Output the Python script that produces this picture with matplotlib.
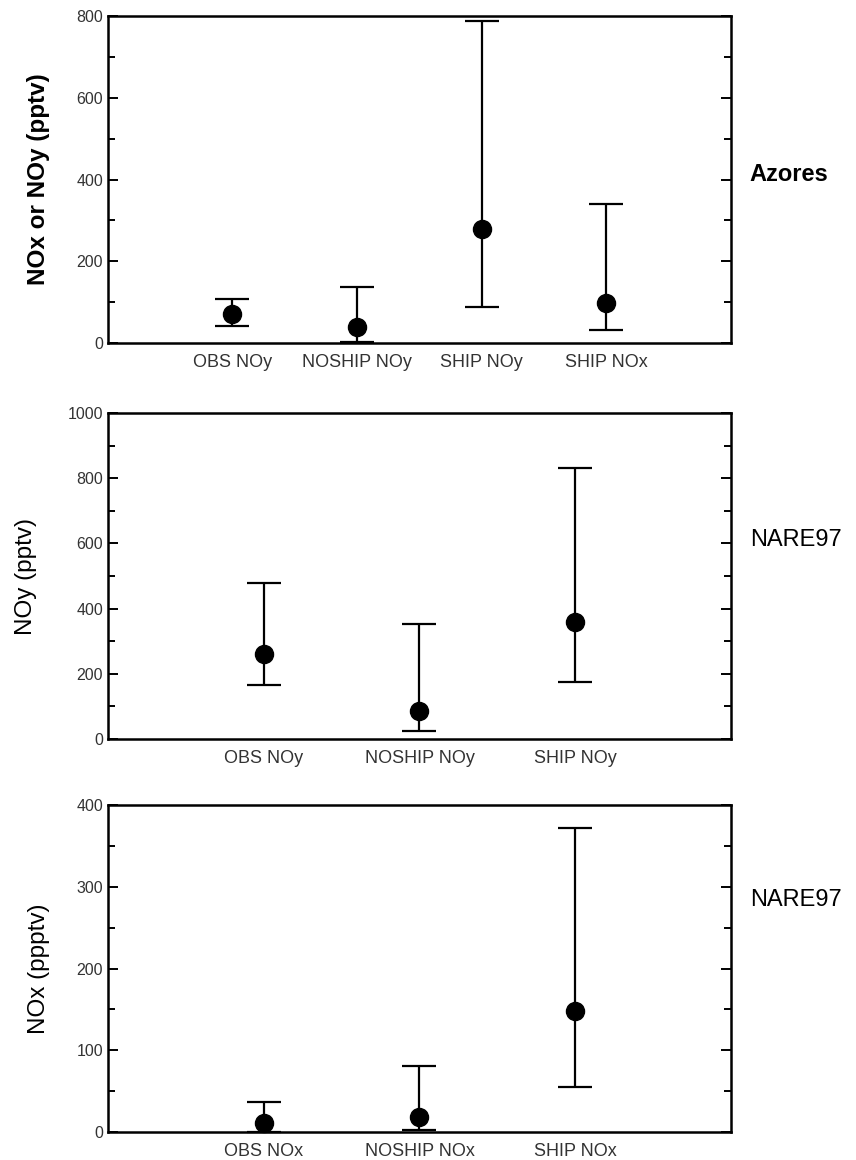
import matplotlib
matplotlib.use("Agg")
import matplotlib.pyplot as plt
from matplotlib.ticker import MultipleLocator
import numpy as np

plt.rcParams['font.family'] = ['Liberation Sans', 'DejaVu Sans']

# Panel 1: Azores
az_cats = ["OBS NOy", "NOSHIP NOy", "SHIP NOy", "SHIP NOx"]
az_mid = [71, 39, 279, 98]
az_low = [42, 3, 88, 32]
az_high = [108, 137, 788, 340]

# Panel 2: NARE97 NOy
ny_cats = ["OBS NOy", "NOSHIP NOy", "SHIP NOy"]
ny_mid = [261, 86, 359]
ny_low = [166, 25, 175]
ny_high = [478, 353, 831]

# Panel 3: NARE97 NOx
nx_cats = ["OBS NOx", "NOSHIP NOx", "SHIP NOx"]
nx_mid = [11, 18, 148]
nx_low = [0, 2, 55]
nx_high = [37, 81, 372]

panels = [
    dict(cats=az_cats, mid=az_mid, low=az_low, high=az_high, ylim=800, major=200, minor=100,
         ylabel="NOx or NOy (pptv)", site="Azores", site_y=0.514, bold=True,
         rect=[0.126, 0.7043, 0.728, 0.2819], labx=-0.093),
    dict(cats=ny_cats, mid=ny_mid, low=ny_low, high=ny_high, ylim=1000, major=200, minor=100,
         ylabel="NOy (pptv)", site="NARE97", site_y=0.61, bold=False,
         rect=[0.126, 0.3629, 0.728, 0.281], labx=-0.114),
    dict(cats=nx_cats, mid=nx_mid, low=nx_low, high=nx_high, ylim=400, major=100, minor=50,
         ylabel="NOx (ppptv)", site="NARE97", site_y=0.71, bold=False,
         rect=[0.126, 0.0241, 0.728, 0.2819], labx=-0.093),
]

fig = plt.figure(figsize=(8.56, 11.6), dpi=100)

for p in panels:
    ax = fig.add_axes(p["rect"])
    n = len(p["cats"])
    x = np.arange(1, n + 1)
    mid = np.array(p["mid"], dtype=float)
    lo = mid - np.array(p["low"], dtype=float)
    hi = np.array(p["high"], dtype=float) - mid
    ax.errorbar(x, mid, yerr=[lo, hi], fmt='o', color='black', ecolor='black',
                markersize=13, elinewidth=1.6, capsize=12, capthick=1.6, zorder=3,
                clip_on=False)
    ax.set_xlim(0, n + 1)
    ax.set_ylim(0, p["ylim"])
    ax.set_xticks(x)
    ax.set_xticklabels(p["cats"], fontsize=13, color='#333333')
    ax.tick_params(axis='x', length=0, pad=8)
    ax.yaxis.set_major_locator(MultipleLocator(p["major"]))
    ax.yaxis.set_minor_locator(MultipleLocator(p["minor"]))
    ax.tick_params(axis='y', which='both', direction='in', left=True, right=True,
                   width=1.4, colors='black', labelcolor='#333333', labelsize=11.5)
    ax.tick_params(axis='y', which='major', length=7)
    ax.tick_params(axis='y', which='minor', length=5)
    for s in ax.spines.values():
        s.set_linewidth(1.8)
    ax.set_ylabel(p["ylabel"], fontsize=17.5,
                  fontweight='bold' if p["bold"] else 'normal')
    ax.yaxis.set_label_coords(p["labx"], 0.5)
    ax.text(1.03, p["site_y"], p["site"], transform=ax.transAxes, fontsize=17,
            fontweight='bold' if p["bold"] else 'normal', va='center', ha='left')

fig.savefig("out.png", dpi=100)
